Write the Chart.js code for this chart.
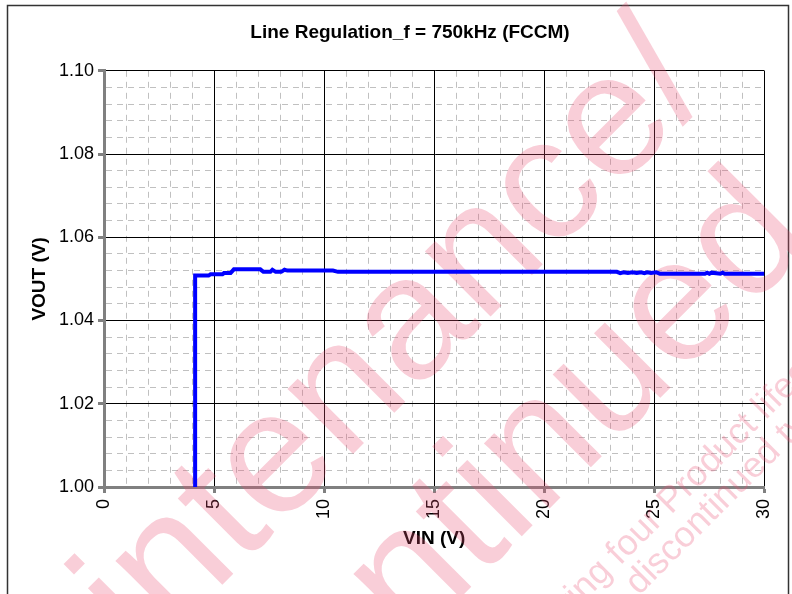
<!DOCTYPE html>
<html>
<head>
<meta charset="utf-8">
<script src="https://cdn.jsdelivr.net/npm/chart.js@4.4.1/dist/chart.umd.min.js"></script>
<style>
  html, body { margin: 0; padding: 0; background: #fff; }
  #wrap { width: 792px; height: 594px; }
</style>
</head>
<body>
<div id="wrap"><canvas id="chart"></canvas></div>
<script>
// VIN sweep (V)
const vin = [4.14, 4.14, 4.75, 4.84, 5.38, 5.45, 5.75, 5.9, 7.1, 7.24, 7.56, 7.65, 7.8,
  8.05, 8.2, 8.33, 10.4, 10.63, 23.3, 23.45, 23.6, 23.8, 24.0, 24.2, 24.4, 24.55,
  24.67, 24.85, 25.07, 25.25, 27.3, 27.4, 27.5, 27.6, 28.0, 28.1, 28.2, 30];
// VOUT (V)
const vout = [1.000, 1.0508, 1.0508, 1.0511, 1.0511, 1.0514, 1.0514, 1.0523, 1.0523,
  1.0517, 1.0517, 1.0522, 1.0517, 1.0517, 1.0522, 1.0520, 1.0520, 1.0517, 1.0517,
  1.0514, 1.0516, 1.0514, 1.0516, 1.0514, 1.0516, 1.0514, 1.0516, 1.0514, 1.0516,
  1.05125, 1.05125, 1.0515, 1.05125, 1.0515, 1.05125, 1.0515, 1.05125, 1.05125];

const x_labels = [0, 5, 10, 15, 20, 25, 30];
const y_labels = [1.00, 1.02, 1.04, 1.06, 1.08, 1.10];

const FONT = "'Liberation Sans', Arial, sans-serif";

function is_x_major(v) {
  return x_labels.some((t) => Math.abs(t - v) < 1e-6);
}
function is_y_major(v) {
  return y_labels.some((t) => Math.abs(t - v) < 1e-6);
}

const points = vin.map((x, i) => ({ x: x, y: vout[i] }));

const frame = {
  id: "frame",
  beforeDraw(chart) {
    const ctx = chart.ctx;
    ctx.save();
    ctx.fillStyle = "#fff";
    ctx.fillRect(0, 0, chart.width, chart.height);
    ctx.strokeStyle = "#333";
    ctx.lineWidth = 1.5;
    ctx.strokeRect(7.5, 5.5, 781, 600);
    ctx.restore();
  },
};

function rotated_text(ctx, text, x, y, size) {
  ctx.save();
  ctx.translate(x, y);
  ctx.rotate(-Math.PI / 4);
  ctx.font = size + "px " + FONT;
  ctx.fillText(text, 0, 0);
  ctx.restore();
}

// the pink "maintenance / discontinued" stamp across the figure
const watermark = {
  id: "watermark",
  beforeDatasetsDraw(chart) {
    const ctx = chart.ctx;
    ctx.save();
    ctx.fillStyle = "rgba(232, 80, 115, 0.28)";
    ctx.textAlign = "left";
    ctx.textBaseline = "alphabetic";
    rotated_text(ctx, "Maintenance/", -27, 834, 175);
    rotated_text(ctx, "Discontinued", 101, 957, 175);
    rotated_text(ctx, "following four Product lifecycle", 514, 672, 36);
    rotated_text(ctx, "discontinued type", 639, 596, 36);
    ctx.restore();
  },
};

const data = {
  datasets: [
    {
      label: "VOUT",
      data: points,
      borderColor: "#0000ff",
      borderWidth: 4,
      pointRadius: 0,
      showLine: true,
      fill: false,
      tension: 0,
    },
  ],
};

const config = {
  type: "scatter",
  data: data,
  options: {
    animation: { duration: 0 },
    responsive: true,
    maintainAspectRatio: false,
    layout: { padding: { left: 54, right: 26, top: 0, bottom: 0 } },
    plugins: {
      legend: { display: false },
      tooltip: { enabled: false },
      title: {
        display: true,
        text: "Line Regulation_f = 750kHz (FCCM)",
        color: "#000",
        font: { family: FONT, size: 19, weight: "bold" },
        padding: { top: 21, bottom: 27 },
      },
    },
    scales: {
      x: {
        type: "linear",
        min: 0,
        max: 30,
        ticks: {
          stepSize: 1,
          autoSkip: false,
          minRotation: 90,
          maxRotation: 90,
          padding: 6,
          color: "#000",
          font: { family: FONT, size: 18 },
          callback: (v) => (is_x_major(v) ? String(v) : ""),
        },
        grid: {
          color: (c) => (c.tick && is_x_major(c.tick.value) ? "#000" : "#c0c0c0"),
          lineWidth: 1,
          tickLength: 6,
          tickWidth: 3,
          tickColor: (c) => (c.tick && is_x_major(c.tick.value) ? "#808080" : "rgba(0,0,0,0)"),
        },
        border: {
          color: "#808080",
          width: 3,
          dash: (c) => (c.tick && !is_x_major(c.tick.value) ? [6, 5] : []),
        },
        title: {
          display: true,
          text: "VIN (V)",
          color: "#000",
          font: { family: FONT, size: 19, weight: "bold" },
          padding: { top: 0, bottom: 44 },
        },
        afterFit: (s) => {
          s.height = 107;
        },
      },
      y: {
        min: 1.0,
        max: 1.1,
        ticks: {
          stepSize: 0.004,
          autoSkip: false,
          padding: 4,
          color: "#000",
          font: { family: FONT, size: 18 },
          callback: (v) => (is_y_major(v) ? v.toFixed(2) : ""),
        },
        grid: {
          color: (c) => (c.tick && is_y_major(c.tick.value) ? "#000" : "#c0c0c0"),
          lineWidth: 1,
          tickLength: 6,
          tickWidth: 3,
          tickColor: (c) => (c.tick && is_y_major(c.tick.value) ? "#808080" : "rgba(0,0,0,0)"),
        },
        border: {
          color: "#808080",
          width: 3,
          dash: (c) => (c.tick && !is_y_major(c.tick.value) ? [6, 5] : []),
        },
        title: {
          display: true,
          text: "VOUT (V)",
          color: "#000",
          font: { family: FONT, size: 19, weight: "bold" },
          padding: { top: -26, bottom: 0 },
        },
        afterFit: (s) => {
          s.width = 50;
        },
      },
    },
  },
  plugins: [frame, watermark],
};

new Chart(document.getElementById("chart"), config);
</script>
</body>
</html>
